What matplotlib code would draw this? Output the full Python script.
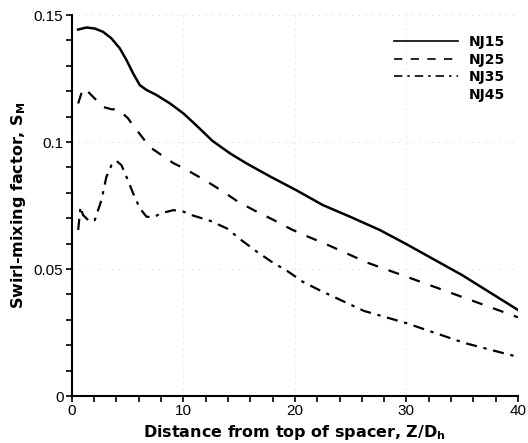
import matplotlib
matplotlib.use("Agg")
import matplotlib.pyplot as plt
from matplotlib.lines import Line2D
from matplotlib.ticker import MultipleLocator

plt.rcParams["font.family"] = ["Liberation Sans", "DejaVu Sans"]

z_nj15 = [0.57, 1.32, 2.06, 2.8, 3.56, 4.3, 4.9, 5.5, 6.1, 6.7, 7.6, 8.8, 10.0, 11.3, 12.6,
          14.2, 15.7, 17.8, 20.1, 22.5, 25.0, 27.6, 30.0, 35.0, 40.0]
s_nj15 = [0.1443, 0.1451, 0.1447, 0.1434, 0.1408, 0.1369, 0.1323, 0.1270, 0.1224, 0.1205,
          0.1185, 0.1152, 0.1113, 0.1060, 0.1005, 0.0955, 0.0915, 0.0864, 0.0811, 0.0752,
          0.0705, 0.0654, 0.0598, 0.0476, 0.0339]

z_nj25 = [0.57, 1.0, 1.3, 2.2, 2.66, 3.56, 4.15, 5.05, 5.35, 7.0, 9.1, 10.0, 12.0, 13.6,
          14.9, 16.4, 18.1, 19.7, 21.2, 22.8, 26.5, 30.0, 35.0, 40.0]
s_nj25 = [0.1152, 0.1211, 0.1205, 0.1165, 0.1140, 0.1129, 0.1129, 0.1093, 0.1074, 0.0980,
          0.0917, 0.0898, 0.0848, 0.0804, 0.0765, 0.0730, 0.0693, 0.0656, 0.0627, 0.0598,
          0.0525, 0.0470, 0.0390, 0.0310]

z_nj35 = [0.57, 0.78, 1.0, 1.6, 2.06, 2.66, 3.1, 3.56, 4.0, 4.45, 4.9, 5.5, 6.1, 6.7, 7.3,
          8.05, 9.1, 10.0, 10.7, 12.4, 13.9, 15.2, 16.6, 17.9, 19.4, 20.7, 22.2, 24.0, 26.2,
          30.0, 35.2, 40.0]
s_nj35 = [0.0654, 0.0745, 0.0713, 0.0687, 0.0693, 0.0772, 0.0863, 0.0909, 0.0926, 0.0909,
          0.0863, 0.0798, 0.0739, 0.0706, 0.0704, 0.0720, 0.0732, 0.0726, 0.0713, 0.0690,
          0.0660, 0.0614, 0.0568, 0.0529, 0.0490, 0.0450, 0.0417, 0.0380, 0.0335, 0.0287,
          0.0209, 0.0154]

labels = ["NJ15", "NJ25", "NJ35", "NJ45"]
x_ticks = [0, 10, 20, 30, 40]
y_ticks = [0, 0.05, 0.1, 0.15]
y_ticklabels = ["0", "0.05", "0.1", "0.15"]

fig = plt.figure(figsize=(5.28, 4.43), dpi=100)
ax = fig.add_axes([0.136, 0.106, 0.845, 0.860])

# faint dotted grid
for yv in y_ticks[1:]:
    ax.axhline(yv, color="#c0c0c0", lw=0.6, ls=(0, (1, 7)), zorder=0)
for xv in x_ticks[1:]:
    ax.axvline(xv, color="#c0c0c0", lw=0.6, ls=(0, (1, 7)), zorder=0)

ax.plot(z_nj15, s_nj15, color="black", lw=1.8, ls="-")
ax.plot(z_nj25, s_nj25, color="black", lw=1.6, ls=(0, (5, 5)))
ax.plot(z_nj35, s_nj35, color="black", lw=1.6, ls=(0, (5, 3, 1.5, 3)))

ax.set_xlim(0, 40)
ax.set_ylim(0, 0.15)
ax.set_xticks(x_ticks)
ax.set_xticklabels([str(v) for v in x_ticks])
ax.set_yticks(y_ticks)
ax.set_yticklabels(y_ticklabels)
ax.xaxis.set_minor_locator(MultipleLocator(2))
ax.yaxis.set_minor_locator(MultipleLocator(0.01))
ax.tick_params(which="both", direction="out", width=1.2, length=4, labelsize=11, pad=2)

for side in ["top", "right"]:
    ax.spines[side].set_visible(False)
for side in ["left", "bottom"]:
    ax.spines[side].set_linewidth(1.5)

lab_font = {"family": "DejaVu Sans", "weight": "bold", "size": 11.5}
ax.set_xlabel("Distance from top of spacer, Z/D$_\\mathbf{h}$", fontdict=lab_font, labelpad=3)
ax.set_ylabel("Swirl-mixing factor, S$_\\mathbf{M}$", fontdict=lab_font, labelpad=4)

handles = [
    Line2D([], [], color="black", lw=1.2, ls="-"),
    Line2D([], [], color="black", lw=1.2, ls=(0, (5, 5))),
    Line2D([], [], color="black", lw=1.2, ls=(0, (5, 3, 1.5, 3))),
    Line2D([], [], color="none", lw=1.2),
]
leg = ax.legend(handles, labels, loc="upper right", bbox_to_anchor=(1.0, 0.98),
                frameon=False, handlelength=4.6, handletextpad=0.8, labelspacing=0.25,
                prop={"family": "DejaVu Sans", "weight": "bold", "size": 10})

fig.savefig("out.png", dpi=100)
